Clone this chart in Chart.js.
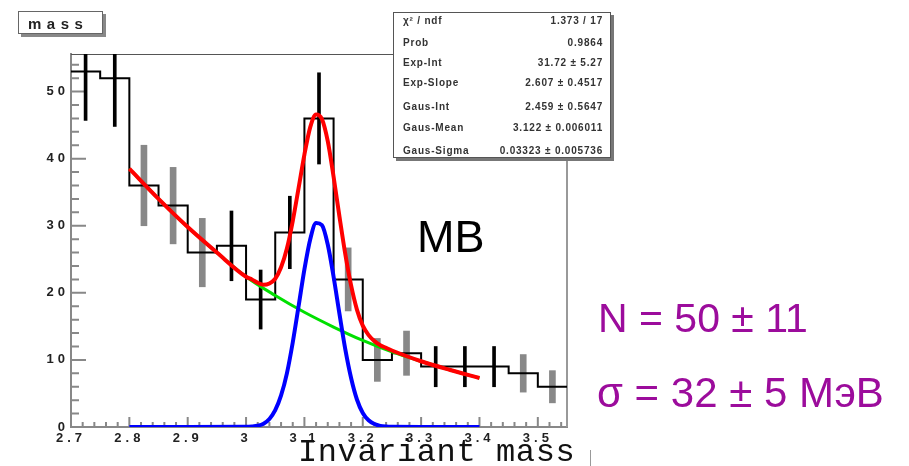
<!DOCTYPE html>
<html>
<head>
<meta charset="utf-8">
<script src="https://cdn.jsdelivr.net/npm/chart.js@4.4.0/dist/chart.umd.min.js"></script>
<style>
  html, body { margin: 0; padding: 0; background: #fff; }
  #wrap { position: relative; width: 909px; height: 466px; overflow: hidden; }
  #massChart { position: absolute; left: 0; top: 0; }
  .txt { position: absolute; white-space: nowrap; line-height: 1; font-family: Arial, "Liberation Sans", sans-serif; }
  #title { left: 18px; top: 11px; width: 83px; height: 21px; border: 1px solid #666; background: #fff;
           box-shadow: 3px 3px 0 #888; font: bold 15px Arial, sans-serif; letter-spacing: 5.5px; color: #222; }
  #title span { position: absolute; left: 9px; top: 3px; }
  #stats { position: absolute; left: 393px; top: 12px; width: 216px; height: 144px; border: 1px solid #555;
           background: #fff; box-shadow: 3px 3px 0 #777; font: bold 10px Arial, sans-serif; letter-spacing: 0.8px; color: #333; }
  #stats .row { position: absolute; left: 9px; right: 7px; display: flex; justify-content: space-between; line-height: 12px; }
  .purple { color: #9c0c9c; }
</style>
</head>
<body>
<div id="wrap">
  <canvas id="massChart" width="909" height="466"></canvas>
  <div id="title" class="txt"><span>mass</span></div>
  <div id="stats">
    <div class="row" style="top:2px"><span>χ² / ndf</span><span>1.373 / 17</span></div>
    <div class="row" style="top:24px"><span>Prob</span><span>0.9864</span></div>
    <div class="row" style="top:44px"><span>Exp-Int</span><span>31.72 ± 5.27</span></div>
    <div class="row" style="top:64px"><span>Exp-Slope</span><span>2.607 ± 0.4517</span></div>
    <div class="row" style="top:88px"><span>Gaus-Int</span><span>2.459 ± 0.5647</span></div>
    <div class="row" style="top:109px"><span>Gaus-Mean</span><span>3.122 ± 0.006011</span></div>
    <div class="row" style="top:132px"><span>Gaus-Sigma</span><span>0.03323 ± 0.005736</span></div>
  </div>
  <div class="txt" style="left:417px; top:214px; font-size:45px; color:#000;">MB</div>
  <div class="txt purple" style="left:598px; top:298px; font-size:41px;">N = 50 ± 11</div>
  <div class="txt purple" style="left:597px; top:372px; font-size:42px;">σ = 32 ± 5 МэВ</div>
  <div class="txt" style="left:298px; top:437px; font-size:32px; letter-spacing:0.6px; font-family:'Liberation Mono', monospace; color:#111;">Invariant mass</div>
  <div style="position:absolute; left:590px; top:450px; width:1px; height:16px; background:#999;"></div>
</div>
<script>
// histogram bins (centres), counts and error bars
const binCenters = [2.725, 2.775, 2.825, 2.875, 2.925, 2.975, 3.025, 3.075, 3.125,
                    3.175, 3.225, 3.275, 3.325, 3.375, 3.425, 3.475, 3.525];
const counts = [53, 52, 36, 33, 26, 27, 19, 29, 46, 22, 10, 11, 9, 9, 9, 8, 6];
const errors = [7.3, 7.2, 6.0, 5.7, 5.1, 5.2, 4.4, 5.4, 6.8, 4.7, 3.2, 3.3, 3.0, 3.0, 3.0, 2.8, 2.4];
const binWidth = 0.05;

// fit curves
const bgX = [2.80, 2.85, 2.90, 2.95, 3.00, 3.05, 3.10, 3.15, 3.20, 3.25, 3.30, 3.35, 3.40];
const bgY = [38.5, 34.0, 29.8, 26.0, 22.4, 19.6, 17.1, 14.9, 12.9, 11.2, 9.8, 8.5, 7.3];

const gausX = [2.80, 2.90, 3.00, 3.01, 3.02, 3.03, 3.04, 3.05, 3.06, 3.07, 3.08, 3.09, 3.10,
               3.11, 3.12, 3.13, 3.14, 3.15, 3.16, 3.17, 3.18, 3.19, 3.20, 3.21, 3.22,
               3.23, 3.24, 3.25, 3.30, 3.40];
const gausY = [0, 0, 0.03, 0.08, 0.2, 0.5, 1.2, 2.5, 4.7, 8.0, 12.6, 18.0, 23.5,
               28.0, 30.4, 30.1, 27.2, 22.4, 16.9, 11.6, 7.3, 4.1, 2.1, 1.0, 0.44,
               0.17, 0.06, 0.02, 0, 0];

const totalX = [2.80, 2.85, 2.90, 2.95, 3.00, 3.01, 3.02, 3.03, 3.04, 3.05, 3.06, 3.07, 3.08,
                3.09, 3.10, 3.11, 3.12, 3.13, 3.14, 3.15, 3.16, 3.17, 3.18, 3.19, 3.20,
                3.21, 3.22, 3.23, 3.24, 3.25, 3.30, 3.35, 3.40];
const totalY = [38.5, 34.0, 29.8, 26.0, 22.4, 22.0, 21.5, 21.2, 21.4, 22.1, 23.8, 26.6, 30.7,
                35.6, 40.6, 44.7, 46.6, 45.9, 42.6, 37.3, 31.4, 25.8, 21.1, 17.5, 15.1,
                13.7, 12.8, 12.2, 11.8, 11.4, 9.8, 8.5, 7.3];

const xTickValues = [2.7, 2.8, 2.9, 3.0, 3.1, 3.2, 3.3, 3.4, 3.5];
const xTickLabels = ['2.7', '2.8', '2.9', '3', '3.1', '3.2', '3.3', '3.4', '3.5'];
const yTickValues = [0, 10, 20, 30, 40, 50];
const yTickLabels = ['0', '10', '20', '30', '40', '50'];

// which error bars are drawn in the wide grey style
const greyBins = [2, 3, 4, 9, 10, 11, 15, 16];

const xy = (xs, ys) => xs.map((x, i) => ({ x: x, y: ys[i] }));

const histPoints = binCenters.map((c, i) => ({ x: c - binWidth / 2, y: counts[i] }));
histPoints.push({ x: binCenters[binCenters.length - 1] + binWidth / 2, y: counts[counts.length - 1] });

const errPoints = (grey) => binCenters
  .map((c, i) => ({ x: c, y: [counts[i] - errors[i], counts[i] + errors[i]], i: i }))
  .filter(p => greyBins.includes(p.i) === grey);

const frameTicks = {
  id: 'frameTicks',
  beforeDraw(chart) {
    chart.ctx.letterSpacing = '4px';
  },
  beforeDatasetsDraw(chart) {
    const { ctx, chartArea: a, scales: { x, y } } = chart;
    ctx.save();
    ctx.strokeStyle = '#555';
    ctx.lineWidth = 1;
    ctx.beginPath();
    ctx.moveTo(a.left, a.top + 0.5);
    ctx.lineTo(a.right, a.top + 0.5);
    ctx.stroke();
    ctx.strokeStyle = '#999';
    ctx.lineWidth = 2;
    ctx.beginPath();
    ctx.moveTo(a.right, a.top);
    ctx.lineTo(a.right, a.bottom);
    ctx.stroke();
    // ticks point inwards
    ctx.strokeStyle = '#888';
    ctx.beginPath();
    for (let v = 0; v <= 55; v += 2) {
      const py = y.getPixelForValue(v);
      ctx.moveTo(a.left, py);
      ctx.lineTo(a.left + (v % 10 === 0 ? 15 : 8), py);
    }
    for (let i = 0; i <= 42; i++) {
      const px = x.getPixelForValue(2.7 + i * 0.02);
      ctx.moveTo(px, a.bottom);
      ctx.lineTo(px, a.bottom - (i % 5 === 0 ? 10 : 5));
    }
    ctx.stroke();
    ctx.restore();
  },
  afterDraw(chart) {
    chart.ctx.letterSpacing = '0px';
  }
};

const tickFont = { family: 'Arial', size: 13, weight: 'bold' };

new Chart(document.getElementById('massChart'), {
  type: 'line',
  data: {
    datasets: [
      {
        label: 'S+B',
        data: xy(totalX, totalY),
        borderColor: '#ff0000',
        borderWidth: 4,
        pointRadius: 0,
        cubicInterpolationMode: 'monotone',
        order: 1
      },
      {
        label: 'signal',
        data: xy(gausX, gausY),
        borderColor: '#0000ff',
        borderWidth: 4,
        pointRadius: 0,
        cubicInterpolationMode: 'monotone',
        order: 2
      },
      {
        label: 'background',
        data: xy(bgX, bgY),
        borderColor: '#00e000',
        borderWidth: 3,
        pointRadius: 0,
        cubicInterpolationMode: 'monotone',
        order: 3
      },
      {
        label: 'mass',
        data: histPoints,
        borderColor: '#000',
        borderWidth: 2,
        pointRadius: 0,
        stepped: 'before',
        order: 4
      },
      {
        type: 'bar',
        label: 'err',
        data: errPoints(false),
        backgroundColor: '#000',
        barThickness: 3,
        grouped: false,
        order: 5
      },
      {
        type: 'bar',
        label: 'err2',
        data: errPoints(true),
        backgroundColor: '#888',
        barThickness: 6,
        grouped: false,
        order: 6
      }
    ]
  },
  options: {
    responsive: false,
    animation: false,
    layout: { padding: { left: 0, top: 54, right: 342, bottom: 0 } },
    scales: {
      x: {
        type: 'linear',
        min: 2.7,
        max: 3.55,
        offset: false,
        grid: { display: false, drawTicks: false, offset: false },
        border: { color: '#888', width: 2 },
        afterBuildTicks: (scale) => { scale.ticks = xTickValues.map(v => ({ value: v })); },
        afterFit: (scale) => { scale.height = 39; },
        ticks: {
          padding: 4,
          maxRotation: 0,
          autoSkip: false,
          color: '#222',
          font: tickFont,
          callback: (v, i) => xTickLabels[i]
        }
      },
      y: {
        min: 0,
        max: 55.6,
        grid: { display: false, drawTicks: false },
        border: { color: '#888', width: 2 },
        afterBuildTicks: (scale) => { scale.ticks = yTickValues.map(v => ({ value: v })); },
        afterFit: (scale) => { scale.width = 71; },
        ticks: {
          padding: 2,
          color: '#222',
          font: tickFont,
          callback: (v, i) => yTickLabels[i]
        }
      }
    },
    plugins: {
      legend: { display: false },
      tooltip: { enabled: false }
    }
  },
  plugins: [frameTicks]
});
</script>
</body>
</html>
